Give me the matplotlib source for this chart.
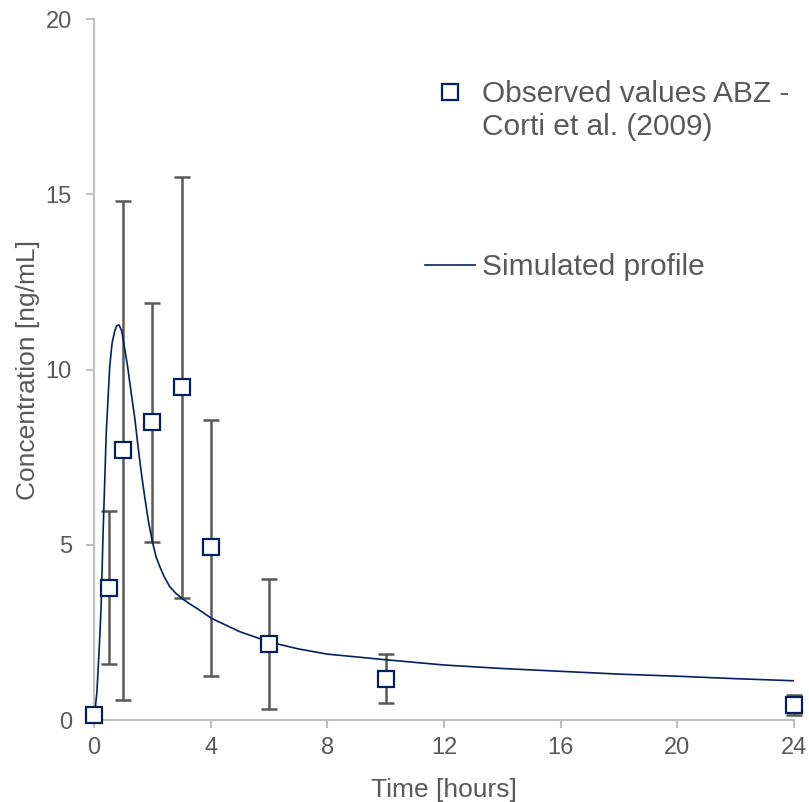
import matplotlib.pyplot as plt
from matplotlib.lines import Line2D

plt.rcParams['font.family'] = ['Liberation Sans', 'DejaVu Sans']

# observed ABZ concentrations (mean +/- SD)
obs_time = [0, 0.5, 1, 2, 3, 4, 6, 10, 24]
obs_conc = [0.14, 3.77, 7.7, 8.5, 9.5, 4.94, 2.17, 1.17, 0.43]
obs_low = [0.14, 1.6, 0.57, 5.08, 3.48, 1.26, 0.31, 0.49, 0.14]
obs_high = [0.14, 5.96, 14.8, 11.9, 15.5, 8.56, 4.02, 1.88, 0.71]

# simulated profile
sim_time = [0, 0.1, 0.2, 0.25, 0.31, 0.42, 0.54, 0.62, 0.71, 0.78, 0.86, 0.95,
            1.05, 1.15, 1.28, 1.4, 1.51, 1.63, 1.75, 1.87, 2.0, 2.13, 2.26, 2.4,
            2.6, 2.8, 3.0, 3.25, 3.52, 4.03, 5, 6, 7, 8, 10, 12, 14, 16, 18, 20, 22, 24]
sim_conc = [0, 0.8, 2.4, 3.4, 5.3, 8.2, 10.1, 10.75, 11.1, 11.25, 11.27, 11.1,
            10.6, 10.1, 9.3, 8.6, 7.8, 7.0, 6.3, 5.65, 5.09, 4.65, 4.37, 4.1,
            3.8, 3.62, 3.48, 3.33, 3.19, 2.9, 2.52, 2.23, 2.03, 1.88, 1.72, 1.57,
            1.47, 1.39, 1.31, 1.25, 1.18, 1.12]

obs_label = ['Observed values ABZ -', 'Corti et al. (2009)']
sim_label = 'Simulated profile'

navy = '#002060'
grey_text = '#595959'
axis_grey = '#bfbfbf'

fig = plt.figure(figsize=(8.09, 8.02), dpi=100)
ax = fig.add_axes([0.1162, 0.1022, 0.8653, 0.8741])

yerr = [[c - lo for c, lo in zip(obs_conc, obs_low)],
        [hi - c for c, hi in zip(obs_conc, obs_high)]]
ax.errorbar(obs_time, obs_conc, yerr=yerr, fmt='none', ecolor=grey_text,
            elinewidth=1.8, capsize=6, capthick=1.8, zorder=2, clip_on=False)
ax.plot(sim_time, sim_conc, color=navy, lw=1.2, zorder=3)
ax.plot(obs_time, obs_conc, ls='none', marker='s', ms=11, mfc='white',
        mec=navy, mew=1.6, zorder=4, clip_on=False)

ax.set_xlim(0, 24)
ax.set_ylim(0, 20)
ax.set_xticks(range(0, 25, 4))
ax.set_yticks(range(0, 21, 5))
for s in ['top', 'right']:
    ax.spines[s].set_visible(False)
for s in ['left', 'bottom']:
    ax.spines[s].set_color(axis_grey)
    ax.spines[s].set_linewidth(1.5)
ax.tick_params(colors=axis_grey, labelcolor=grey_text, labelsize=17,
               length=6, width=1.5, pad=6)
ax.tick_params(axis='y', pad=10)
ax.set_xlabel('Time [hours]', fontsize=19, color=grey_text, labelpad=14)
ax.set_ylabel('Concentration [ng/mL]', fontsize=19, color=grey_text, labelpad=4)

# legend: two-line observed entry with the marker on the first line
leg_kw = dict(loc='upper left', bbox_transform=fig.transFigure, frameon=False,
              fontsize=21.5, handlelength=1.67, handletextpad=0.23,
              borderpad=0, borderaxespad=0, labelcolor=grey_text)
obs_handles = [Line2D([], [], ls='none', marker='s', ms=11, mfc='white', mec=navy, mew=1.6),
               Line2D([], [], ls='none')]
leg1 = ax.legend(obs_handles, obs_label, bbox_to_anchor=(0.5253, 0.900),
                 labelspacing=0.17, **leg_kw)
ax.add_artist(leg1)
ax.legend([Line2D([], [], color=navy, lw=1.2)], [sim_label],
          bbox_to_anchor=(0.5253, 0.6845), **leg_kw)

fig.savefig('out.png', dpi=100)
